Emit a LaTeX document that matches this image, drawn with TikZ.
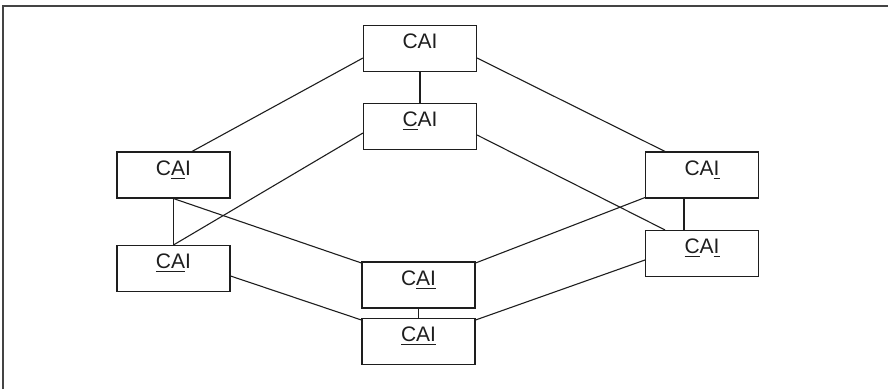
\documentclass[tikz,border=0pt]{standalone}
\usepackage{fontspec}
\setmainfont{Liberation Sans}
\newcommand\uln[1]{\leavevmode\setbox0\hbox{#1}\rlap{\rule[-3.9pt]{\wd0}{1.3pt}}\box0}
\definecolor{ink}{HTML}{1E1E1E}
\definecolor{frame}{HTML}{444444}
\begin{document}
\begin{tikzpicture}[x=1pt,y=1pt,
  cell/.style={draw=ink,line width=1.1pt,minimum width=113pt,minimum height=46pt,
    text height=7pt,text depth=7pt,inner sep=0pt,text=ink,
    font=\fontsize{21}{23}\selectfont},
  link/.style={draw=ink,line width=1.1pt},
  border/.style={draw=frame,line width=1.6pt}]
\useasboundingbox (0,0) rectangle (888,-389);
\draw[border] (3,-389) -- (3,-6) -- (888,-6);
\node[cell] (top) at (420,-48.5) {CAI};
\node[cell] (C)   at (420,-126.5) {\uln{C}AI};
\node[cell] (A)   at (173.5,-175) {C\uln{A}I};
\node[cell] (CA)  at (173.5,-268.5) {\uln{CA}I};
\node[cell] (I)   at (702,-175) {CA\uln{I}};
\node[cell] (CI)  at (702,-253.5) {\uln{C}A\uln{I}};
\node[cell] (AI)  at (418.5,-285) {C\uln{AI}};
\node[cell] (CAI) at (418.5,-341.5) {\uln{CAI}};
\draw[link] ([yshift=-9.5pt]top.west) -- ([xshift=18.5pt]A.north);
\draw[link] ([yshift=-9.5pt]top.east) -- ([xshift=-37pt]I.north);
\draw[link] (top.south) -- (C.north);
\draw[link] ([yshift=-6.5pt]C.west) -- (CA.north);
\draw[link] ([yshift=-8.5pt]C.east) -- ([xshift=-37pt]CI.north);
\draw[link] (A.south) -- (CA.north);
\draw[link] (A.south) -- ([yshift=22pt]AI.west);
\draw[link] ([yshift=-7.5pt]CA.east) -- ([yshift=21.5pt]CAI.west);
\draw[link] ([yshift=22pt]AI.east) -- ([yshift=1pt]I.south west);
\draw[link] ([xshift=-18pt]I.south) -- ([xshift=-18pt]CI.north);
\draw[link] (AI.south) -- (CAI.north);
\draw[link] ([yshift=21.5pt]CAI.east) -- ([yshift=-6.5pt]CI.west);
\end{tikzpicture}
\end{document}
